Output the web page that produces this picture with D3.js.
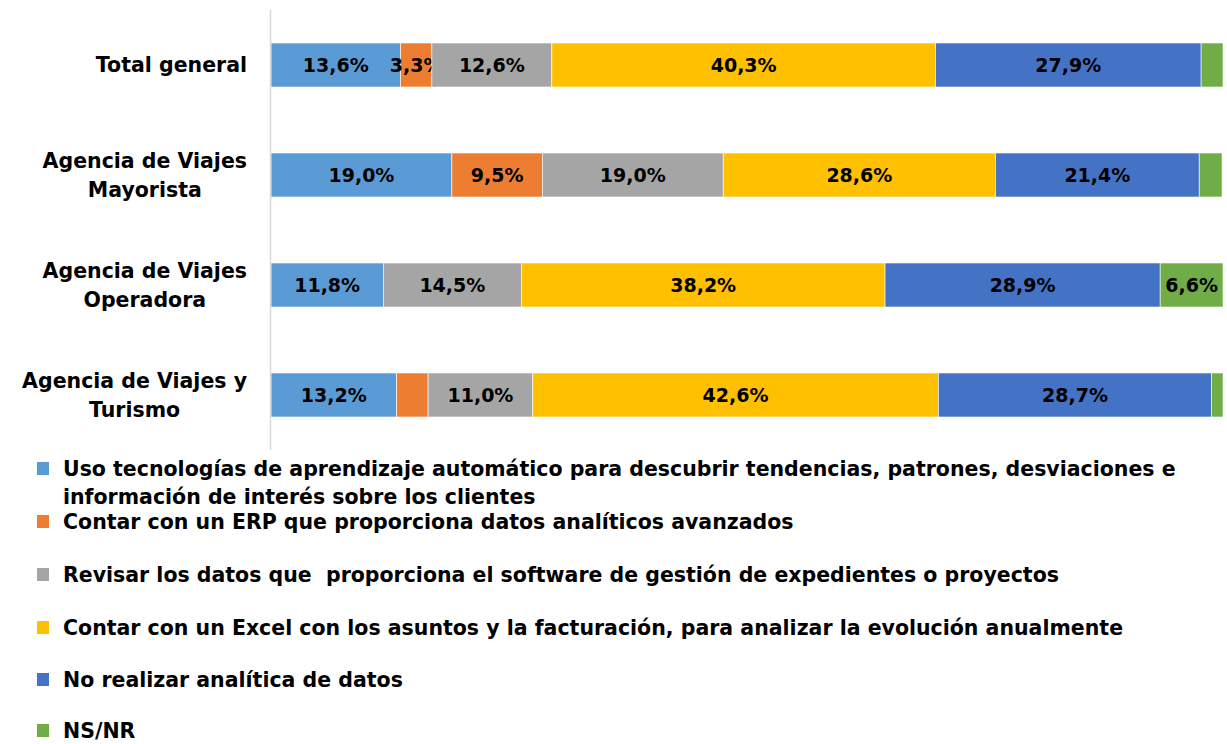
<!DOCTYPE html>
<html>
<head>
<meta charset="utf-8">
<script src="https://cdn.jsdelivr.net/npm/d3@7"></script>
<style>
  body { margin: 0; background: #fff; }
  svg text { font-family: "DejaVu Sans", sans-serif; font-weight: bold; fill: #000; }
</style>
</head>
<body>
<svg id="chart" width="1227" height="744"></svg>
<script>
// categories (top to bottom)
var categories = ["Total general", "Agencia de Viajes Mayorista", "Agencia de Viajes Operadora", "Agencia de Viajes y Turismo"];
var categoryLines = [["Total general"], ["Agencia de Viajes", "Mayorista"], ["Agencia de Viajes", "Operadora"], ["Agencia de Viajes y", "Turismo"]];

// series names (legend order)
var seriesNames = [
  "Uso tecnologías de aprendizaje automático para descubrir tendencias, patrones, desviaciones e información de interés sobre los clientes",
  "Contar con un ERP que proporciona datos analíticos avanzados",
  "Revisar los datos que  proporciona el software de gestión de expedientes o proyectos",
  "Contar con un Excel con los asuntos y la facturación, para analizar la evolución anualmente",
  "No realizar analítica de datos",
  "NS/NR"
];
var seriesColors = ["#5B9BD5", "#ED7D31", "#A5A5A5", "#FFC000", "#4472C4", "#70AD47"];

// values in %, one per category
var usoML     = [13.6, 19.0, 11.8, 13.2];
var erp       = [3.3, 9.5, 0.0, 3.3];
var software  = [12.6, 19.0, 14.5, 11.0];
var excel     = [40.3, 28.6, 38.2, 42.6];
var noAnalit  = [27.9, 21.4, 28.9, 28.7];
var nsnr      = [2.3, 2.4, 6.6, 1.2];
var seriesValues = [usoML, erp, software, excel, noAnalit, nsnr];

// which segment labels are printed (Excel hid the tiny ones)
var showLabel = [
  [true, true, true, true],
  [true, true, false, false],
  [true, true, true, true],
  [true, true, true, true],
  [true, true, true, true],
  [false, false, true, false]
];

var svg = d3.select("#chart");
var locale = d3.formatLocale({decimal: ",", thousands: ".", grouping: [3], currency: ["", "€"]});
var fmt = locale.format(".1f");

var rows = categories.map(function (c, i) {
  var r = {cat: c};
  seriesNames.forEach(function (s, j) { r["s" + j] = seriesValues[j][i]; });
  return r;
});
var keys = seriesNames.map(function (s, j) { return "s" + j; });
var stacked = d3.stack().keys(keys)(rows);

var x = d3.scaleLinear().domain([0, 100]).range([271, 1223]);
var y = d3.scaleBand().domain(categories).range([10, 450]).paddingInner(0.6).paddingOuter(0.3);

var labelSize = 19;
var textSize = 20.5;

var layer = svg.selectAll("g.layer").data(stacked).enter().append("g")
  .attr("class", "layer")
  .attr("fill", function (d, i) { return seriesColors[i]; });

layer.selectAll("rect").data(function (d) { return d; }).enter().append("rect")
  .attr("x", function (d) { return x(d[0]); })
  .attr("y", function (d) { return y(d.data.cat); })
  .attr("width", function (d) { return x(d[1]) - x(d[0]); })
  .attr("height", y.bandwidth())
  .attr("stroke", "#fff")
  .attr("stroke-width", 0.6);

layer.each(function (ser, j) {
  d3.select(this).selectAll("text").data(ser.filter(function (d, i) { return showLabel[j][i]; }))
    .enter().append("text")
    .attr("x", function (d) { return (x(d[0]) + x(d[1])) / 2; })
    .attr("y", function (d) { return y(d.data.cat) + y.bandwidth() / 2; })
    .attr("dy", "0.36em")
    .attr("text-anchor", "middle")
    .style("font-size", labelSize + "px")
    .text(function (d) { return fmt(d[1] - d[0]) + "%"; });
});

// vertical axis line
svg.append("line")
  .attr("x1", 270.5).attr("x2", 270.5)
  .attr("y1", 10).attr("y2", 450)
  .attr("stroke", "#d9d9d9").attr("stroke-width", 1.5);

// category labels, wrapped lines centered on each other, block right-aligned
var catG = svg.selectAll("g.cat").data(categories).enter().append("g").attr("class", "cat");
catG.each(function (c, i) {
  var g = d3.select(this);
  var lines = categoryLines[i];
  var lh = 29;
  var cy = y(c) + y.bandwidth() / 2;
  var t = g.selectAll("text").data(lines).enter().append("text")
    .attr("y", function (d, k) { return cy + (k - (lines.length - 1) / 2) * lh; })
    .attr("dy", "0.36em")
    .attr("text-anchor", "middle")
    .style("font-size", textSize + "px")
    .text(function (d) { return d; });
  var maxW = 0;
  t.each(function () { maxW = Math.max(maxW, this.getComputedTextLength()); });
  t.attr("x", 247 - maxW / 2);
});

// legend
var legendY = [469, 522, 575, 628, 680, 731];
var legend = svg.selectAll("g.legend").data(seriesNames).enter().append("g")
  .attr("class", "legend")
  .attr("transform", function (d, i) { return "translate(37," + legendY[i] + ")"; });

legend.append("rect")
  .attr("x", 0).attr("y", -7)
  .attr("width", 12).attr("height", 13)
  .attr("fill", function (d, i) { return seriesColors[i]; });

legend.each(function (name) {
  var g = d3.select(this);
  var words = name.split(" ");
  var maxW = 1140;
  var text = g.append("text").attr("y", 0)
    .style("font-size", textSize + "px").style("white-space", "pre");
  var line = [];
  var tspan = text.append("tspan").attr("x", 26).attr("dy", "0.36em");
  words.forEach(function (w) {
    line.push(w);
    tspan.text(line.join(" "));
    if (tspan.node().getComputedTextLength() > maxW && line.length > 1) {
      line.pop();
      tspan.text(line.join(" "));
      line = [w];
      tspan = text.append("tspan").attr("x", 26).attr("dy", "28px").text(w);
    }
  });
});
</script>
</body>
</html>
